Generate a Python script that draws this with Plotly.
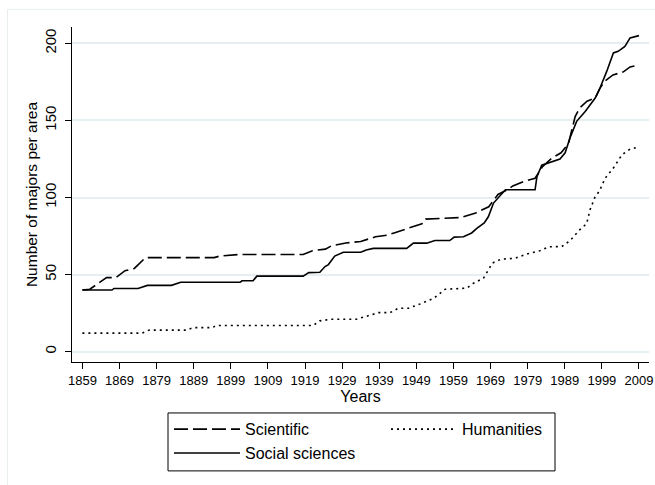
import plotly.graph_objects as go

# ---- data ----
sci_years = [1859, 1861, 1865.5, 1868, 1870.5, 1873, 1876, 1894.5, 1896, 1901, 1918.5, 1921,
             1924.5, 1926, 1930, 1934, 1938, 1941, 1943, 1947, 1950.5, 1951.5, 1961, 1965,
             1968.5, 1971, 1973.5, 1975, 1978, 1981, 1983, 1985.5, 1988, 1990, 1991.8, 1993,
             1995, 1997.2, 1998.5, 1999.8, 2002, 2004.8, 2006.6, 2009]
sci_values = [40, 40.5, 48, 48, 52.5, 54, 61, 61, 62, 63, 63, 65.5,
              66.5, 68.5, 70.5, 71.5, 74.5, 75.5, 77, 80, 83, 86, 87, 90,
              94, 102, 105, 107.5, 110.5, 112.5, 120, 125.5, 129, 135, 152.5, 158,
              162.5, 164.5, 171, 175.5, 179.5, 181.5, 184.7, 186]

soc_years = [1859, 1867, 1867.5, 1874, 1876.5, 1883, 1885.5, 1901.5, 1902, 1905, 1906, 1918.5,
             1920, 1923, 1924.4, 1925.3, 1927, 1929.3, 1934, 1935.5, 1937.4, 1946.4, 1948.2,
             1951.8, 1954, 1958, 1959.2, 1961.7, 1963.9, 1965.3, 1967.3, 1968.4, 1969.8,
             1971.6, 1973, 1981, 1981.5, 1982.8, 1985.5, 1987.7, 1989.1, 1990.4, 1992.2,
             1994.5, 1997.2, 1998.5, 2000.3, 2002.1, 2003.4, 2005.2, 2006.6, 2009]
soc_values = [40, 40, 41, 41, 43, 43, 45, 45, 46, 46, 49, 49,
              51.3, 51.5, 55.2, 56.5, 62, 64.5, 64.5, 66, 67, 67, 70.4,
              70.4, 72.1, 72.1, 74.3, 74.5, 77, 80, 83.5, 87.5, 96.4,
              101.5, 105, 105, 113.5, 121, 123.4, 125, 129, 138.6, 149.4,
              155.8, 164.5, 171, 181.8, 193.8, 194.8, 198, 203.5, 205]

hum_years = [1859, 1875, 1877, 1887, 1888.8, 1894, 1895.2, 1921.2, 1923, 1926, 1932.8, 1935.4,
             1938.8, 1941.9, 1944.2, 1946.9, 1950.1, 1953.7, 1956.8, 1962.6, 1964.4, 1967.1,
             1969.5, 1971.8, 1975.5, 1979, 1982.3, 1984.6, 1988.2, 1990.4, 1993, 1994.9,
             1995.8, 1997.2, 1998.3, 1999.9, 2002.1, 2004.4, 2006.6, 2009]
hum_values = [12, 12, 14, 14, 15.6, 15.6, 17, 17, 20, 21, 21, 22.7,
              25.3, 25.3, 28.2, 28.2, 31, 34.7, 40.5, 41.2, 44.4, 47.7,
              57.5, 60, 60.5, 63.5, 65.5, 68, 68.2, 72, 79, 83,
              92, 100.6, 104, 112.6, 119.1, 127.7, 131.4, 132.7]

x_ticks = [1859, 1869, 1879, 1889, 1899, 1909, 1919, 1929, 1939, 1949, 1959, 1969, 1979, 1989, 1999, 2009]
y_ticks = [0, 50, 100, 150, 200]

FONT = "Arial, Liberation Sans, sans-serif"

# plot area in page pixels: x 72..649, y 26.7..362
PL, PW, PB, PH = 72, 577, 362, 335.3
def px(x):
    return (x - PL) / PW
def py(y):
    return (PB - y) / PH

fig = go.Figure()
fig.add_trace(go.Scatter(x=sci_years, y=sci_values, mode="lines", name="Scientific",
                         line=dict(color="black", width=1.6, dash="14px,5px")))
fig.add_trace(go.Scatter(x=hum_years, y=hum_values, mode="lines", name="Humanities",
                         line=dict(color="black", width=1.6, dash="2px,4px")))
fig.add_trace(go.Scatter(x=soc_years, y=soc_values, mode="lines", name="Social sciences",
                         line=dict(color="black", width=1.6)))

fig.update_layout(
    width=655, height=485,
    margin=dict(l=72, r=6, t=27, b=123),
    paper_bgcolor="white", plot_bgcolor="white",
    font=dict(family=FONT, size=15, color="black"),
    showlegend=True,
    legend=dict(
        orientation="h", x=px(169), xanchor="left", y=-0.15, yanchor="top",
        borderwidth=0, bgcolor="rgba(0,0,0,0)",
        itemwidth=66, entrywidth=136, font=dict(size=16),
        traceorder="normal",
    ),
    xaxis=dict(
        range=[1856.2, 2011.7], tickvals=x_ticks, ticktext=[str(v) for v in x_ticks],
        showgrid=False, zeroline=False, showline=True, linecolor="black", linewidth=1.2,
        ticks="outside", ticklen=6, tickwidth=1.2, tickcolor="black",
        tickfont=dict(size=13),
        title=dict(text="Years", font=dict(size=16), standoff=1),
        automargin=False,
    ),
    yaxis=dict(
        range=[-6.7, 210.6], tickvals=y_ticks,
        showgrid=True, gridcolor="#e6eef2", gridwidth=1.5,
        zeroline=False, showline=True, linecolor="black", linewidth=1.2,
        ticks="outside", ticklen=6, tickwidth=1.2, tickcolor="black",
        tickangle=-90, tickfont=dict(size=15), ticklabelstandoff=3,
        title=dict(text="Number of majors per area", font=dict(size=15.5), standoff=0),
        automargin=False,
    ),
    shapes=[
        # faint outer graph-region border
        dict(type="rect", xref="paper", yref="paper",
             x0=px(7.5), x1=px(700), y0=py(540), y1=py(9),
             line=dict(color="#e8eef0", width=1), fillcolor="rgba(0,0,0,0)", layer="below"),
        # legend frame
        dict(type="rect", xref="paper", yref="paper",
             x0=px(168), x1=px(555), y0=py(471), y1=py(413),
             line=dict(color="black", width=1), fillcolor="white", layer="below"),
    ],
)

fig.write_html("out.html", config={"displayModeBar": False},
               post_script="document.body.style.margin='0';")
